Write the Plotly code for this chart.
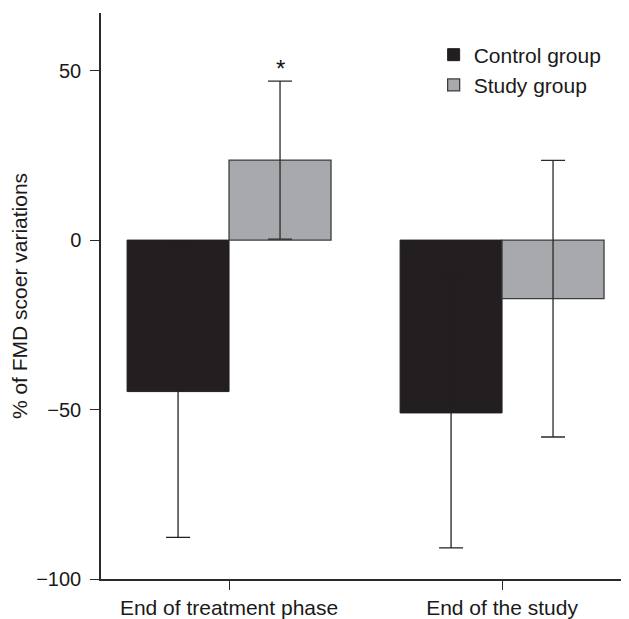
import plotly.graph_objects as go

categories = ["End of treatment phase", "End of the study"]
control_values = [-44.7, -51.0]
control_err = [43.0, 39.8]
study_values = [23.6, -17.3]
study_err = [23.3, 40.8]
series_names = ["Control group", "Study group"]
y_ticks = [-100, -50, 0, 50]

FONT = "Arial, Liberation Sans, Helvetica, sans-serif"
AX = "#2a2a2a"

fig = go.Figure()
fig.add_trace(go.Bar(
    x=categories, y=control_values, name=series_names[0],
    marker=dict(color="#231f20", line=dict(color="#231f20", width=1)),
    error_y=dict(type="data", array=control_err, visible=True,
                 color="#231f20", thickness=1.3, width=12),
))
fig.add_trace(go.Bar(
    x=categories, y=study_values, name=series_names[1],
    marker=dict(color="#a7a9ac", line=dict(color="#3c3c3c", width=1.3)),
    error_y=dict(type="data", array=study_err, visible=True,
                 color=AX, thickness=1.3, width=12),
))

fig.add_annotation(
    x=categories[0], xshift=51, y=study_values[0] + study_err[0],
    yref="y", text="*", showarrow=False, yanchor="bottom", yshift=-3,
    font=dict(size=24, color="#111111", family=FONT),
)

# page body adds an 8px offset; compensate in size and margins
fig.update_layout(
    width=621, height=611,
    margin=dict(l=93, r=0, t=5, b=38),
    paper_bgcolor="white", plot_bgcolor="white",
    barmode="group", bargap=0.253, bargroupgap=0,
    font=dict(family=FONT, size=21, color="#1a1a1a"),
    showlegend=True,
    legend=dict(
        x=0.630, y=0.962, xanchor="left", yanchor="top",
        bgcolor="rgba(0,0,0,0)", font=dict(size=21, family=FONT, color="#1a1a1a"),
        itemwidth=30, tracegroupgap=0,
    ),
)
fig.update_xaxes(
    range=[-0.469, 1.465], showline=True, linecolor=AX, linewidth=1.5,
    ticks="outside", ticklen=9, tickcolor=AX, tickwidth=1.3,
    showgrid=False, zeroline=False, tickfont=dict(size=21),
)
fig.update_yaxes(
    range=[-100, 67], tickvals=y_ticks, ticktext=["\u2212100", "\u221250", "0", "50"],
    showline=True, linecolor=AX, linewidth=1.5,
    ticks="outside", ticklen=9, tickcolor=AX, tickwidth=1.3, ticklabelstandoff=5,
    showgrid=False, zeroline=False, tickfont=dict(size=20),
    title=dict(text="% of FMD scoer variations", font=dict(size=21), standoff=4),
)

fig.write_html("out.html")
